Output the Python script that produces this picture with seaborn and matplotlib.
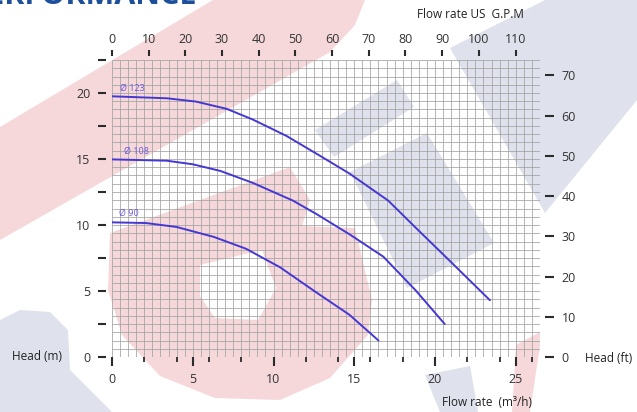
import numpy as np
import pandas as pd
import matplotlib
matplotlib.use("Agg")
import matplotlib.pyplot as plt
import seaborn as sns
from matplotlib.patches import Polygon

# pump curves: flow (m3/h) vs head (m)
q_123 = [0, 3.4, 5.2, 7.1, 8.7, 10.8, 12.8, 14.7, 17.1, 18.8, 20.9, 23.4]
h_123 = [19.75, 19.6, 19.35, 18.8, 18.0, 16.75, 15.3, 13.9, 11.85, 9.8, 7.3, 4.3]
q_108 = [0, 3.4, 5.0, 6.7, 8.7, 11.2, 12.7, 14.7, 16.8, 18.8, 20.6]
h_108 = [14.97, 14.87, 14.6, 14.1, 13.2, 11.85, 10.8, 9.3, 7.6, 5.05, 2.5]
q_90 = [0, 2.1, 4.0, 6.3, 8.3, 10.4, 12.7, 14.7, 16.5]
h_90 = [10.2, 10.15, 9.85, 9.1, 8.2, 6.8, 4.85, 3.2, 1.25]

impellers = ["\u00d8 123", "\u00d8 108", "\u00d8 90"]
label_pos = [(0.5, 20.35), (0.75, 15.55), (0.45, 10.9)]

m_ticks = [0, 5, 10, 15, 20]
q_ticks = [0, 5, 10, 15, 20, 25]
ft_ticks = [0, 10, 20, 30, 40, 50, 60, 70]
gpm_ticks = [0, 10, 20, 30, 40, 50, 60, 70, 80, 90, 100, 110]

df = pd.concat([
    pd.DataFrame({"flow": q_123, "head": h_123, "imp": impellers[0]}),
    pd.DataFrame({"flow": q_108, "head": h_108, "imp": impellers[1]}),
    pd.DataFrame({"flow": q_90, "head": h_90, "imp": impellers[2]}),
])

sns.set_style("white")
plt.rcParams["font.family"] = ["Open Sans", "DejaVu Sans"]

line_col = "#4538d2"
tick_col = "#2b2b2b"
grid_col = "#a2a2a2"

fig = plt.figure(figsize=(6.37, 4.12), dpi=100)

# faded logo watermark behind the chart (pixel coords)
bg = fig.add_axes([0, 0, 1, 1], zorder=0)
bg.set_xlim(0, 637)
bg.set_ylim(412, 0)
bg.axis("off")
pink = "#f6d8db"
grey = "#dfe1ec"
shapes = [
    (pink, [(0, 127), (213, 0), (365, 0), (355, 25), (330, 52), (0, 240)]),
    (pink, [(110, 233), (290, 167), (310, 200), (302, 226), (355, 228), (372, 300),
            (368, 335), (330, 378), (280, 400), (215, 398), (160, 376), (122, 335), (108, 290)]),
    ("white", [(200, 265), (262, 250), (276, 288), (258, 320), (215, 318), (200, 296)]),
    (grey, [(0, 320), (20, 310), (50, 312), (68, 330), (70, 370), (112, 412), (0, 412)]),
    (grey, [(450, 48), (545, 0), (637, 0), (637, 100), (545, 213)]),
    (grey, [(315, 130), (397, 80), (414, 107), (334, 157)]),
    (grey, [(350, 172), (427, 133), (494, 243), (407, 288)]),
    (grey, [(425, 375), (470, 366), (478, 412), (440, 412)]),
    (pink, [(516, 345), (540, 332), (540, 346), (530, 412), (512, 412)]),
]
for col, pts in shapes:
    bg.add_patch(Polygon(pts, closed=True, facecolor=col, edgecolor="none"))

fig.text(197 / 637, 1 - 4 / 412, "PERFORMANCE", ha="right", va="baseline",
         fontsize=22, fontweight="bold", color="#1d4f9a")

ax = fig.add_axes([112 / 637, 1 - 357 / 412, 428 / 637, 297 / 412], zorder=1)
ax.set_facecolor("none")
ax.set_xlim(0, 26.5)
ax.set_ylim(0, 22.5)

# fine grid
ax.vlines(np.arange(0, 26.51, 0.5), 0, 22.5, color=grid_col, lw=0.55, zorder=1)
ax.hlines(np.arange(0, 22.51, 0.625), 0, 26.5, color=grid_col, lw=0.55, zorder=1)

sns.lineplot(data=df, x="flow", y="head", hue="imp", palette=[line_col] * 3,
             sort=False, legend=False, lw=1.4, ax=ax, zorder=3)

for name, (x, y) in zip(impellers, label_pos):
    ax.text(x, y, name, fontsize=6.5, color="#6a5ad8", va="center", ha="left", zorder=4)

for s in ax.spines.values():
    s.set_visible(False)
ax.spines["left"].set_position(("outward", 4))

ax.set_yticks(np.arange(0, 22.51, 2.5))
ax.set_yticklabels([str(int(v)) if v % 5 == 0 else "" for v in np.arange(0, 22.51, 2.5)])
ax.set_xticks(q_ticks)
ax.set_xticks(np.arange(0, 26.6, 2), minor=True)
ax.tick_params(axis="y", direction="out", length=6, width=1.5, color=tick_col,
               pad=5.5, labelsize=9, labelcolor="#333333", left=True)
ax.tick_params(axis="x", which="major", direction="out", length=6.5, width=1.5,
               color=tick_col, pad=5, labelsize=9, labelcolor="#333333", bottom=True)
ax.tick_params(axis="x", which="minor", direction="out", length=3.5, width=1.3,
               color=tick_col, bottom=True)
ax.set_xlabel("")
ax.set_ylabel("")

m2ft = 3.28084
q2gpm = 4.40287
sec_y = ax.secondary_yaxis(1 + 5 / 428, functions=(lambda v: v * m2ft, lambda v: v / m2ft))
sec_y.set_yticks(ft_ticks)
sec_y.tick_params(direction="out", length=6.5, width=1.5, color=tick_col, pad=5.5,
                  labelsize=9, labelcolor="#333333")
sec_x = ax.secondary_xaxis(1 + 4 / 297, functions=(lambda v: v * q2gpm, lambda v: v / q2gpm))
sec_x.set_xticks(gpm_ticks)
sec_x.tick_params(direction="out", length=4.5, width=1.5, color=tick_col, pad=3,
                  labelsize=9, labelcolor="#333333")
for sec in (sec_x, sec_y):
    for s in sec.spines.values():
        s.set_visible(False)

fig.text(37 / 637, 1 - 357 / 412, "Head (m)", ha="center", va="center",
         fontsize=8.5, color="#222222")
fig.text(585 / 637, 1 - 358 / 412, "Head (ft)", ha="left", va="center",
         fontsize=8.5, color="#222222")
fig.text(470 / 637, 1 - 14 / 412, "Flow rate US  G.P.M", ha="center", va="center",
         fontsize=8.5, color="#222222")
fig.text(487 / 637, 1 - 403 / 412, "Flow rate  (m\u00b3/h)", ha="center", va="center",
         fontsize=8.5, color="#222222")

fig.savefig("out.png", dpi=100)
